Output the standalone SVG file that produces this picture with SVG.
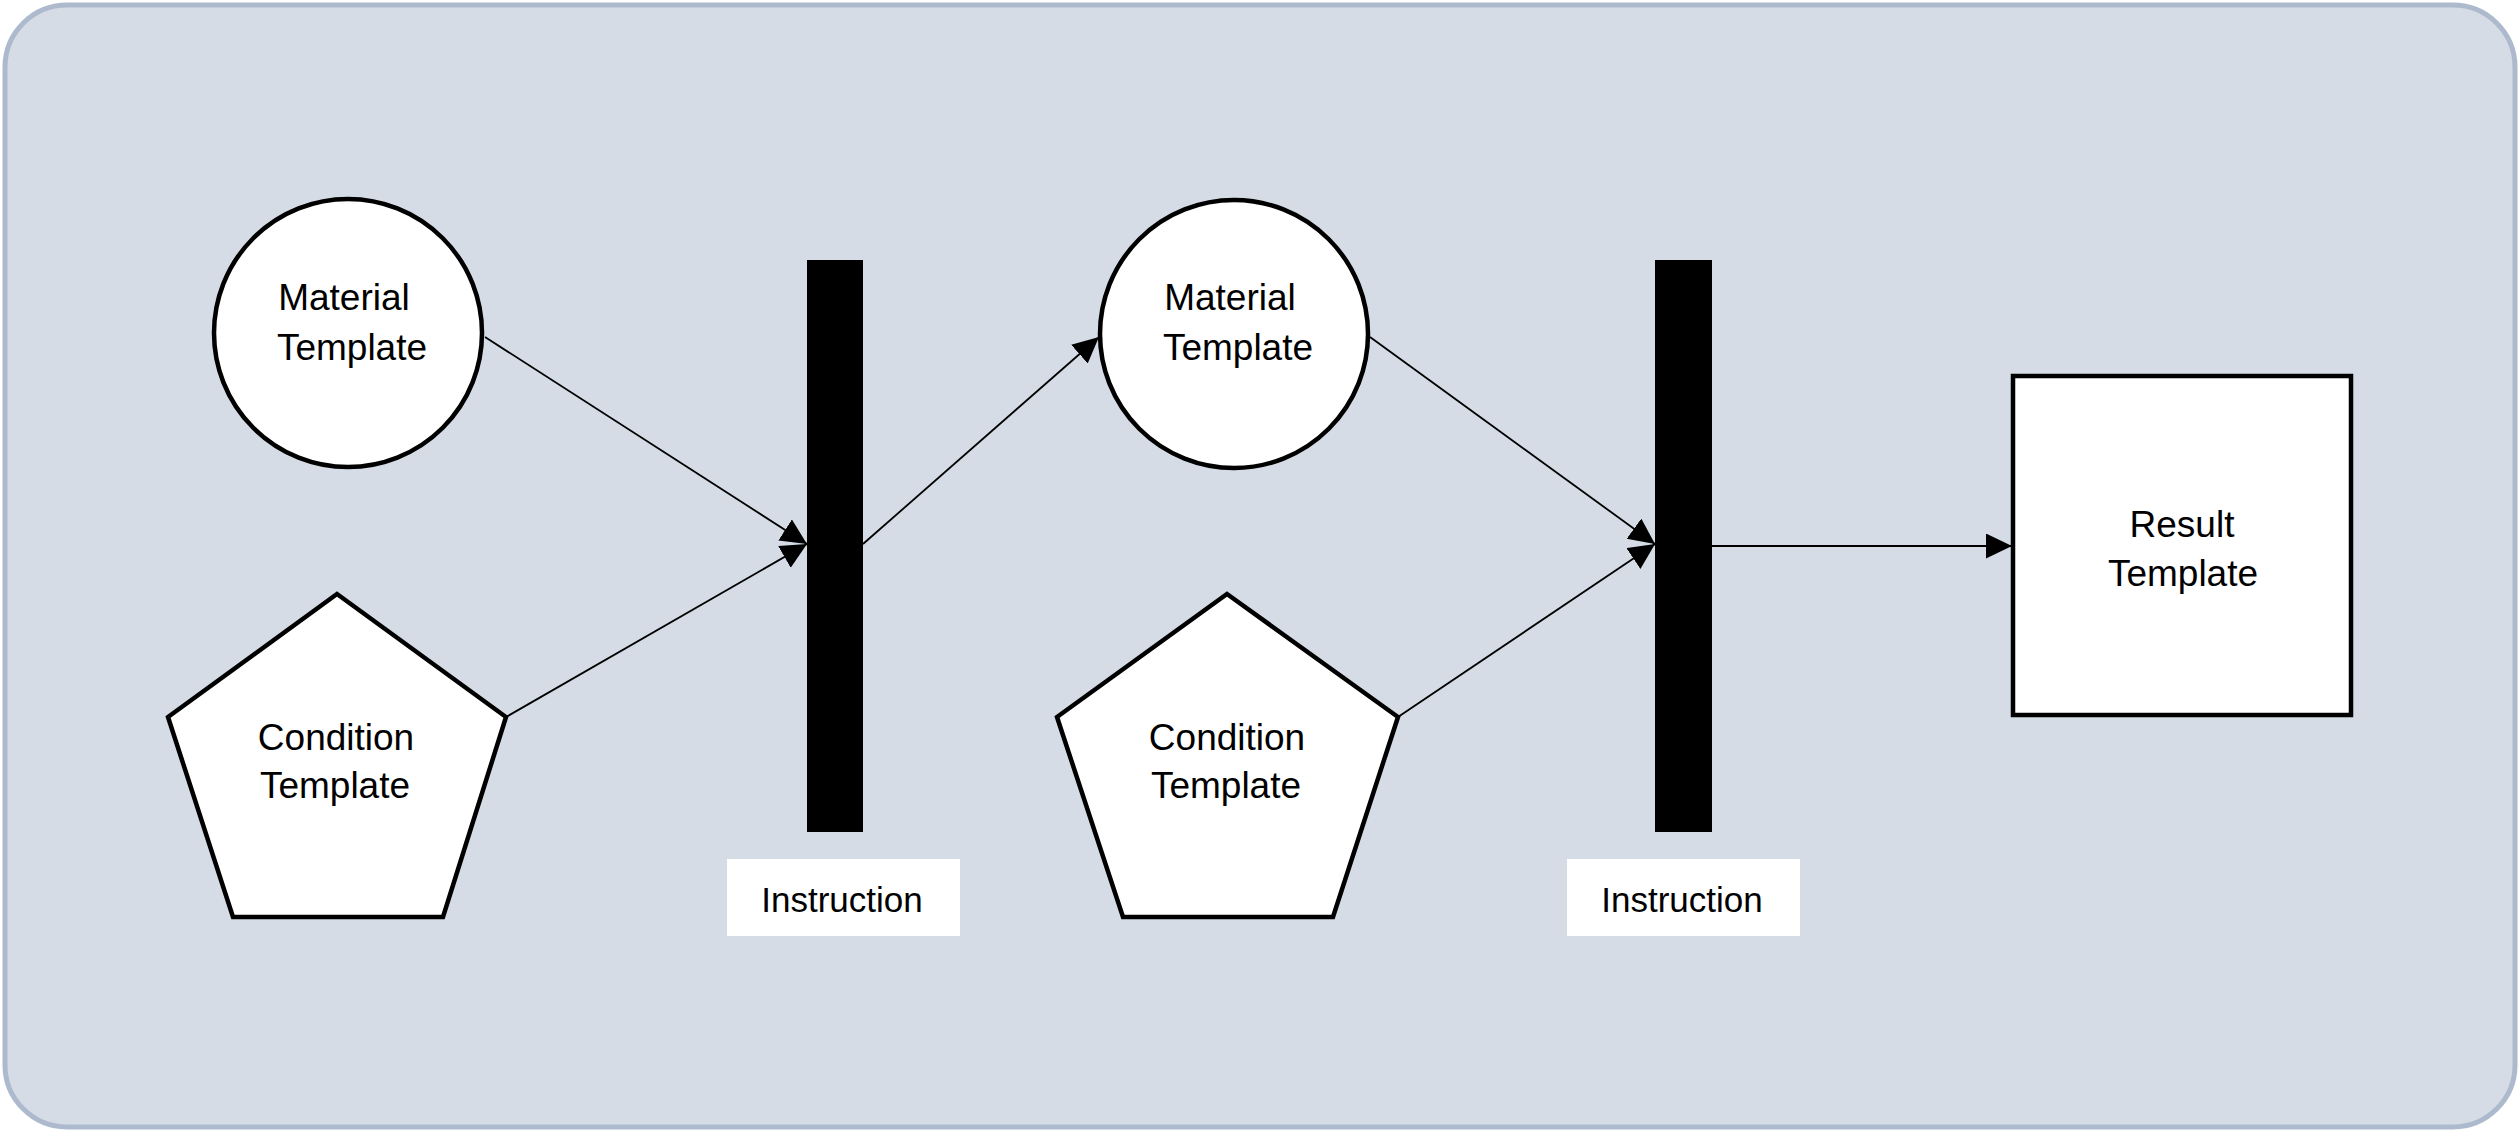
<svg xmlns="http://www.w3.org/2000/svg" width="2520" height="1132" viewBox="0 0 2520 1132">
<defs>
<style>
.bg{fill:#d5dce6;stroke:#adb9cc;stroke-width:5}
.shape{fill:#ffffff;stroke:#000000;stroke-width:4.5}
.bar{fill:#000000}
.lbl{fill:#ffffff}
.t{font-family:"Liberation Sans",Arial,sans-serif;font-size:37px;fill:#000000;text-anchor:middle}
.ti{font-family:"Liberation Sans",Arial,sans-serif;font-size:35px;fill:#000000;text-anchor:middle}
.edge{stroke:#000000;stroke-width:1.8;fill:none;marker-end:url(#arr)}
</style>
<marker id="arr" markerUnits="userSpaceOnUse" markerWidth="27" markerHeight="26" refX="26" refY="12.5" orient="auto">
<path d="M0,0 L26,12.5 L0,25 Z" fill="#000000"/>
</marker>
</defs>
<rect class="bg" x="5" y="5" width="2510" height="1122" rx="62" ry="62"/>
<g id="connectors">
<line class="edge" x1="485" y1="337" x2="807" y2="544"/>
<line class="edge" x1="506" y1="717" x2="807" y2="544"/>
<line class="edge" x1="863" y1="544" x2="1099" y2="337"/>
<line class="edge" x1="1370" y1="337" x2="1655" y2="544"/>
<line class="edge" x1="1398" y1="717" x2="1655" y2="544"/>
<line class="edge" x1="1712" y1="546" x2="2012" y2="546"/>
</g>
<g id="material1">
<circle class="shape" cx="348" cy="333" r="134"/>
<text class="t" x="344" y="310">Material</text>
<text class="t" x="352" y="360">Template</text>
</g>
<g id="condition1">
<polygon class="shape" points="337,594 506,717 443,917 233,917 168,717"/>
<text class="t" x="336" y="750">Condition</text>
<text class="t" x="335" y="798">Template</text>
</g>
<g id="instruction1">
<rect class="bar" x="807" y="260" width="56" height="572"/>
<rect class="lbl" x="727" y="859" width="233" height="77"/>
<text class="ti" x="842" y="912">Instruction</text>
</g>
<g id="material2">
<circle class="shape" cx="1234" cy="334" r="134"/>
<text class="t" x="1230" y="310">Material</text>
<text class="t" x="1238" y="360">Template</text>
</g>
<g id="condition2">
<polygon class="shape" points="1227,594 1398,717 1333,917 1123,917 1057,717"/>
<text class="t" x="1227" y="750">Condition</text>
<text class="t" x="1226" y="798">Template</text>
</g>
<g id="instruction2">
<rect class="bar" x="1655" y="260" width="57" height="572"/>
<rect class="lbl" x="1567" y="859" width="233" height="77"/>
<text class="ti" x="1682" y="912">Instruction</text>
</g>
<g id="result">
<rect class="shape" x="2013" y="376" width="338" height="339"/>
<text class="t" x="2182" y="537">Result</text>
<text class="t" x="2183" y="586">Template</text>
</g>
</svg>
